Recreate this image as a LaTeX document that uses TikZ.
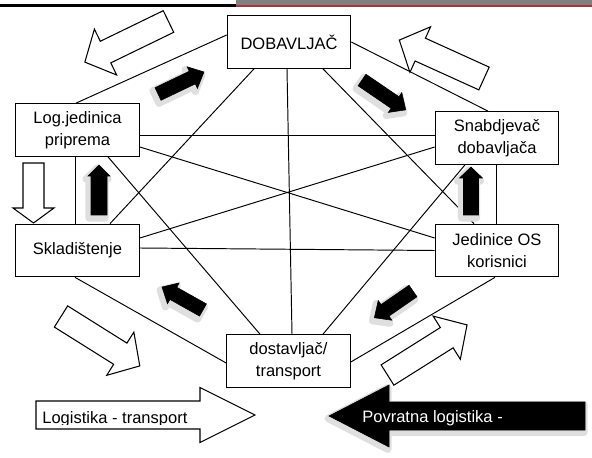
\documentclass[tikz,border=0pt]{standalone}
\usepackage{fontspec}
\setmainfont{Liberation Sans}
\usetikzlibrary{calc}
\definecolor{barred}{RGB}{165,55,60}
\definecolor{bargray}{RGB}{128,128,128}
% block arrow: style, tail point, angle, length, half shaft, half head, head length
\newcommand{\blockarrow}[7]{%
  \begin{scope}[shift={#2},rotate=#3]
    \draw[#1] (0,-#5) -- ({#4-#7},-#5) -- ({#4-#7},-#6) -- (#4,0) -- ({#4-#7},#6) -- ({#4-#7},#5) -- (0,#5) -- cycle;
  \end{scope}}
\begin{document}
\begin{tikzpicture}[x=0.02cm,y=0.02cm,
    box/.style={draw,line width=0.7pt,fill=white,minimum width=2.47cm,minimum height=1.05cm,align=center,inner sep=1pt},
    link/.style={line width=0.55pt},
    hollowarrow/.style={draw=black,line width=0.6pt,line join=miter},
    blackarrow/.style={fill=black,draw=black,line width=0.3pt},
    arrowshade/.style={fill=gray!25,draw=gray!25,line width=4pt,line join=round}]
    \useasboundingbox (0,0) rectangle (592,457);
    {\fontsize{9.4}{12.5}\selectfont

    % Drawing top bar
    \fill[bargray] (236,452) rectangle (592,457);
    \fill[barred] (236,450) rectangle (592,452);
    \draw[line width=0.06cm] (0,451.5) -- (236,451.5);

    % Drawing boxes
    \node[box] (dob) at (289,415) {DOBAVLJAČ};
    \node[box] (logj) at (77.5,327) {Log.jedinica\\priprema};
    \node[box] (snab) at (497,319) {Snabdjevač\\dobavljača};
    \node[box] (sklad) at (77.5,206.5) {Skladištenje};
    \node[box] (jedos) at (497,206.5) {Jedinice OS\\korisnici};
    \node[box] (dost) at (288.5,96) {dostavljač/\\transport};

    % Drawing hollow arrows
    \blockarrow{hollowarrow}{(168.5,435.5)}{205.9}{93}{12}{25.5}{23}
    \blockarrow{hollowarrow}{(484,378.5)}{155.6}{93}{12.5}{25}{23}
    \blockarrow{hollowarrow}{(61,140.5)}{-32.1}{93}{12.5}{25.5}{23}
    \blockarrow{hollowarrow}{(387.5,82)}{32.2}{94}{12}{25.5}{24}
    \blockarrow{hollowarrow}{(33.5,294)}{-90}{60}{10.5}{20.5}{15}
    \blockarrow{hollowarrow}{(36,42)}{0}{219}{14}{27.5}{55}

    % Drawing links between boxes
    \draw[link] ($(dob.west)+(0,7)$) -- ($(logj.north)+(-1.5,0)$);
    \draw[link] (dob.east) -- ($(snab.north)+(-9,0)$);
    \draw[link] ($(dob.south)+(-35,0)$) -- ($(sklad.north)+(32.5,0)$);
    \draw[link] ($(dob.south)+(-2,0)$) -- ($(dost.north)+(3.5,0)$);
    \draw[link] ($(dob.south)+(34,0)$) -- ($(jedos.north)+(-23,0)$);
    \draw[link] ($(logj.east)+(0,-5)$) -- ($(snab.west)+(0,3)$);
    \draw[link] ($(logj.east)+(0,-17)$) -- ($(jedos.west)+(0,12.5)$);
    \draw[link] ($(logj.south)+(-2.5,0)$) -- ($(sklad.north)+(-2.5,0)$);
    \draw[link] ($(logj.south)+(30.5,0)$) -- ($(dost.north)+(-28.5,0)$);
    \draw[link] ($(sklad.east)+(0,12.5)$) -- ($(snab.west)+(0,-9)$);
    \draw[link] ($(sklad.east)+(0,2.5)$) -- (jedos.west);
    \draw[link] ($(sklad.south)+(-2.5,0)$) -- ($(dost.west)+(0,-2)$);
    \draw[link] ($(snab.south)+(-1,0)$) -- ($(jedos.north)+(-1,0)$);
    \draw[link] ($(snab.south)+(-32,0)$) -- ($(dost.north)+(34.5,0)$);
    \draw[link] ($(jedos.south)+(-2,0)$) -- ($(dost.east)+(0,-1)$);

    % Drawing black arrows with shade
    \blockarrow{arrowshade}{(156,360)}{25.6}{51}{7}{12}{13}
    \blockarrow{blackarrow}{(158,363)}{25.6}{51}{7}{12}{13}
    \blockarrow{arrowshade}{(360,374)}{-34.3}{53}{7}{12}{13}
    \blockarrow{blackarrow}{(362,377)}{-34.3}{53}{7}{12}{13}
    \blockarrow{arrowshade}{(97,239)}{90}{50}{8}{11}{11}
    \blockarrow{blackarrow}{(99,242)}{90}{50}{8}{11}{11}
    \blockarrow{arrowshade}{(469,239)}{90}{48}{7.5}{11.5}{11}
    \blockarrow{blackarrow}{(471,242)}{90}{48}{7.5}{11.5}{11}
    \blockarrow{arrowshade}{(201,144)}{150.7}{47}{7}{12}{13}
    \blockarrow{blackarrow}{(203,147)}{150.7}{47}{7}{12}{13}
    \blockarrow{arrowshade}{(411,163)}{214.7}{47}{7}{12}{13}
    \blockarrow{blackarrow}{(413,166)}{214.7}{47}{7}{12}{13}
    \blockarrow{arrowshade}{(584,38.5)}{180}{256}{14}{31}{60}
    \blockarrow{blackarrow}{(585,41)}{180}{256}{14}{31}{60}

    % Marking arrow texts
    \begin{scope}
      \clip (37,33) rectangle (199,55);
      \node[anchor=base west,inner sep=0pt] (logtr) at (42,34) {Logistika - transport};
    \end{scope}
    \node[anchor=base west,inner sep=0pt,text=white] (povr) at (362,35) {Povratna logistika -};
    }
\end{tikzpicture}
\end{document}
